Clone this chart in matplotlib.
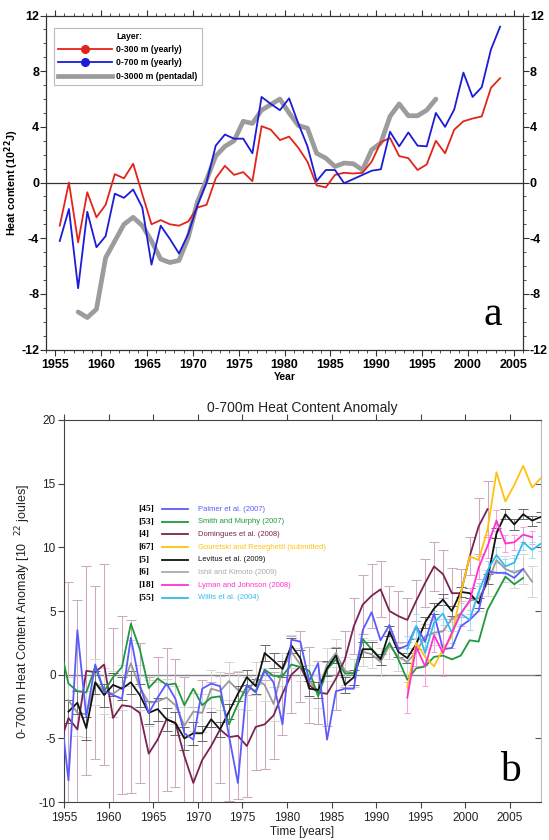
import numpy as np
import matplotlib
matplotlib.use('Agg')
import matplotlib.pyplot as plt
from matplotlib.lines import Line2D
from matplotlib.ticker import MultipleLocator

plt.rcParams['font.family'] = ['Liberation Sans', 'DejaVu Sans']
plt.rcParams['axes.unicode_minus'] = False

# ---- panel a: Levitus et al. layers ----
years_a = np.arange(1955, 2004) + 0.5
heat_300 = [-3.1, 0.0, -4.3, -0.7, -2.5, -1.6, 0.6, 0.3, 1.35, -0.85,
            -3.0, -2.7, -3.0, -3.1, -2.8, -1.8, -1.6, 0.3, 1.2, 0.55,
            0.75, 0.1, 4.05, 3.8, 3.05, 3.3, 2.5, 1.5, -0.2, -0.35,
            0.55, 0.7, 0.65, 0.7, 1.5, 2.9, 3.2, 1.9, 1.75, 0.9,
            1.3, 3.0, 2.1, 3.8, 4.4, 4.6, 4.75, 6.8, 7.5]
heat_700 = [-4.2, -1.9, -7.6, -2.1, -4.65, -3.85, -0.8, -1.1, -0.5, -1.8,
            -5.9, -3.1, -4.05, -5.1, -3.7, -1.65, 0.0, 2.65, 3.45, 3.15,
            3.15, 2.1, 6.15, 5.65, 5.2, 6.05, 4.25, 2.6, 0.1, 0.9,
            0.9, -0.05, 0.25, 0.55, 0.85, 0.95, 3.65, 2.6, 3.6, 2.65,
            2.6, 5.0, 4.0, 5.25, 7.9, 6.15, 6.85, 9.55, 11.2]
years_3000 = np.arange(1957, 1997) + 0.5
heat_3000 = [-9.3, -9.7, -9.1, -5.4, -4.2, -3.0, -2.5, -3.1, -4.2, -5.5,
             -5.75, -5.6, -3.95, -1.4, 0.2, 1.9, 2.6, 3.0, 4.4, 4.25,
             5.2, 5.6, 6.0, 5.0, 4.1, 3.9, 2.1, 1.75, 1.15, 1.4,
             1.35, 0.9, 2.35, 2.85, 4.75, 5.65, 4.8, 4.8, 5.2, 6.0]

# ---- panel b: 0-700 m estimates ----
yrs_palmer = np.arange(1954, 2007) + 0.5
palmer = [-2.0, -8.3, 3.5, -3.3, 0.8, -1.3, -1.6, -1.9, 2.9, -0.8,
          -3.0, -1.8, -0.7, -1.9, -4.6, -5.1, -1.1, -0.7, -0.9, -4.8,
          -8.5, -0.8, -1.4, 0.3, -0.6, -3.9, 2.75, 2.6, -0.5, 0.9,
          -5.1, -1.3, -1.1, -1.1, 3.5, 4.9, 2.7, 3.9, 2.0, 2.3,
          3.8, 2.6, 4.8, 2.0, 2.1, 3.8, 4.3, 5.0, 8.1, 8.0,
          8.0, 7.6, 8.3]
yrs_smith = np.arange(1954, 2007) + 0.5
smith = [2.4, -0.7, -1.3, -1.4, 0.6, -1.3, -0.2, 0.6, 4.0, 2.0,
         -1.05, -0.3, -0.8, -0.7, -2.4, -1.1, -2.4, -1.8, -1.7, -3.9,
         -2.3, -0.9, -1.3, 0.4, -0.1, -0.1, 0.8, 0.6, 0.3, -1.7,
         0.4, 1.2, 0.1, 0.1, 2.8, 2.0, 1.3, 2.5, 1.2, -0.4,
         0.5, 0.65, 1.4, 1.5, 1.2, 1.5, 2.7, 2.6, 5.1, 6.4,
         7.7, 7.1, 7.6]
yrs_doming = np.arange(1954, 2003) + 0.5
doming = [-5.5, -3.4, -4.3, 0.3, 0.2, 0.8, -3.4, -2.4, -2.5, -3.0,
          -6.2, -5.1, -3.5, -3.8, -6.4, -8.5, -6.7, -5.6, -4.3, -4.9,
          -4.8, -5.6, -4.1, -3.9, -3.2, -1.5, 0.0, 0.65, -0.8, -1.4,
          -1.5, -0.3, 1.2, 3.8, 5.5, 6.2, 6.7, 5.0, 4.6, 4.3,
          5.8, 7.2, 8.5, 7.9, 6.4, 6.4, 9.3, 11.65, 13.0]
doming_err = [10.0, 10.7, 10.2, 8.2, 6.8, 7.9, 7.1, 7.0, 6.8, 5.5,
              6.0, 6.5, 5.6, 5.0, 6.2, 6.0, 6.3, 5.0, 4.2, 5.0,
              5.0, 4.0, 3.4, 3.5, 3.4, 3.2, 3.0, 2.8, 3.0, 2.5,
              2.5, 2.5, 2.2, 2.2, 2.3, 2.5, 2.2, 2.0, 2.0, 1.7,
              1.6, 1.9, 1.9, 1.9, 2.0, 1.9, 1.5, 2.2, 2.2]
yrs_levitus = np.arange(1955, 2009) + 0.5
levitus = [-2.9, -2.2, -4.2, -0.6, -1.6, -0.8, -1.1, -0.6, -1.6, -3.0,
           -2.7, -3.5, -3.8, -5.0, -4.6, -4.6, -3.5, -4.3, -2.9, -1.5,
           -0.2, -0.9, 1.7, 1.1, 0.45, 2.3, 1.3, -1.1, -1.2, 0.5,
           1.5, -0.8, -0.2, 2.0, 2.0, 1.2, 3.4, 1.8, 1.3, 2.4,
           4.1, 5.2, 5.9, 5.0, 6.5, 6.4, 5.6, 7.5, 11.1, 12.6,
           11.8, 12.6, 12.1, 12.4]
levitus_err = [0.9, 0.9, 0.9, 0.9, 0.9, 0.9, 0.9, 0.9, 0.9, 0.9,
               0.9, 0.9, 0.9, 0.9, 0.9, 0.6, 0.6, 0.6, 0.6, 0.6,
               0.6, 0.6, 0.6, 0.6, 0.6, 0.6, 0.6, 0.6, 0.6, 0.6,
               0.6, 0.6, 0.6, 0.6, 0.6, 0.4, 0.4, 0.4, 0.4, 0.4,
               0.4, 0.4, 0.4, 0.4, 0.4, 0.4, 0.4, 0.4, 0.4, 0.4,
               0.4, 0.4, 0.4, 0.4]
yrs_ishii = np.arange(1955, 2008) + 0.5
ishii = [-2.0, -3.0, -3.1, -0.6, -1.3, -1.5, -1.0, 0.9, -1.0, -2.2,
         -2.1, -1.8, -2.4, -4.0, -2.9, -3.0, -1.1, -1.3, -0.5, -1.2,
         -1.5, -0.3, -0.8, -2.3, 0.4, 1.8, 0.8, -0.5, -1.3, 0.8,
         1.7, 0.3, 0.1, 1.8, 1.6, 1.0, 2.3, 1.4, 1.0, 1.8,
         3.0, 3.3, 3.4, 4.4, 4.8, 5.8, 6.0, 7.2, 9.0, 8.3,
         8.0, 8.3, 7.3]
ishii_err = [1.8, 1.8, 1.8, 1.8, 1.8, 1.8, 1.8, 1.8, 1.8, 1.8,
             1.5, 1.5, 1.5, 1.5, 1.5, 1.5, 1.5, 1.5, 1.5, 1.5,
             1.3, 1.3, 1.3, 1.3, 1.3, 1.3, 1.3, 1.3, 1.3, 1.3,
             1.1, 1.1, 1.1, 1.1, 1.1, 1.1, 1.1, 1.1, 1.1, 1.1,
             1.0, 1.0, 1.0, 1.0, 1.0, 1.0, 1.0, 1.0, 1.0, 1.0,
             1.2, 1.2, 1.2]
yrs_gour = np.arange(1993, 2009) + 0.5
gouretski = [-1.0, 2.5, 1.4, 0.65, 2.0, 3.0, 6.4, 9.3, 9.0, 11.4,
             15.9, 13.6, 14.9, 16.4, 14.7, 15.45]
yrs_lyman = np.arange(1993, 2008) + 0.5
lyman = [-1.8, 2.2, 0.65, 3.1, 1.7, 3.3, 4.8, 5.8, 8.4, 10.1,
         12.1, 10.3, 10.4, 11.0, 10.8]
lyman_err = [1.2, 1.5, 1.5, 1.3, 1.8, 1.2, 1.0, 1.0, 0.9, 0.9,
             0.8, 0.7, 0.6, 0.6, 0.5]
yrs_willis = np.arange(1993, 2009) + 0.5
willis = [2.0, 3.8, 1.7, 4.1, 4.8, 3.3, 4.8, 4.3, 6.5, 8.2,
          9.4, 8.5, 8.8, 10.4, 9.8, 10.3]
willis_err = [1.0, 1.0, 0.9, 0.9, 0.9, 0.8, 0.8, 0.8, 0.7, 0.7,
              0.6, 0.6, 0.6, 0.6, 0.6, 0.6]

RED, BLUE, GREY_A = '#e3241b', '#1c1cd6', '#9c9c9c'
C_PALMER, C_SMITH, C_DOMING = '#5a5aff', '#1e9a3c', '#7a2352'
C_GOUR, C_LEV, C_ISHII = '#ffc20e', '#111111', '#9a9a9a'
C_LYMAN, C_WILLIS = '#ff33cc', '#33bbee'

fig = plt.figure(figsize=(5.49, 8.4), dpi=100)

# ================= panel a =================
ax1 = fig.add_axes([0.0838, 0.5839, 0.8689, 0.3976])
ax1.axhline(0, color='#333333', lw=0.9, zorder=1)
ax1.plot(years_3000, heat_3000, color=GREY_A, lw=3.4, solid_capstyle='round', zorder=2)
ax1.plot(years_a, heat_300, color=RED, lw=1.3, zorder=3)
ax1.plot(years_a, heat_700, color=BLUE, lw=1.3, zorder=4)
ax1.set_xlim(1954, 2006)
ax1.set_ylim(-12, 12)
ax1.set_xticks(range(1955, 2006, 5))
ax1.xaxis.set_minor_locator(MultipleLocator(1))
ax1.set_yticks(range(-12, 13, 4))
ax1.yaxis.set_minor_locator(MultipleLocator(1))
ax1.tick_params(axis='both', which='both', direction='out', color='#333333')
ax1.tick_params(axis='x', which='both', top=True, bottom=True)
ax1.tick_params(axis='x', which='major', length=4.5, width=0.8, pad=2)
ax1.tick_params(axis='x', which='minor', length=2.5, width=0.6)
ax1.tick_params(axis='y', which='both', left=True, right=True)
ax1.tick_params(axis='y', which='major', labelright=True, length=4, width=0.8, pad=1)
ax1.tick_params(axis='y', which='minor', length=2.5, width=0.6)
ax1.tick_params(axis='both', which='major', labelsize=9)
for lab in ax1.get_xticklabels() + ax1.get_yticklabels():
    lab.set_fontweight('bold')
for lab in ax1.yaxis.get_ticklabels(which='major'):
    lab.set_fontweight('bold')
for t in ax1.yaxis.get_major_ticks():
    t.label2.set_fontweight('bold')
for sp in ax1.spines.values():
    sp.set_linewidth(0.9)
    sp.set_color('#333333')
ax1.set_ylabel('Heat content (10$^{\\mathbf{22}}$J)', fontsize=7.8, fontweight='bold', labelpad=0)
ax1.set_xlabel('Year', fontsize=7.5, fontweight='bold', labelpad=1)

handles = [Line2D([], [], color='none'),
           Line2D([], [], color=RED, lw=1.3, marker='o', ms=5.5),
           Line2D([], [], color=BLUE, lw=1.3, marker='o', ms=5.5),
           Line2D([], [], color=GREY_A, lw=3.4)]
labels = ['Layer:', '0-300 m (yearly)', '0-700 m (yearly)', '0-3000 m (pentadal)']
leg = ax1.legend(handles, labels, loc='upper left', bbox_to_anchor=(0.017, 0.964),
                 borderaxespad=0, prop={'weight': 'bold', 'size': 6.2},
                 handlelength=6.2, handletextpad=0.5, numpoints=1,
                 labelspacing=0.5, borderpad=0.5, fancybox=False,
                 edgecolor='#bbbbbb', framealpha=1)
leg.get_frame().set_linewidth(0.8)

fig.text(493 / 549, 1 - 315 / 840, 'a', family='Liberation Serif', fontsize=30,
         ha='center', va='center')

# ================= panel b =================
ax2 = fig.add_axes([0.1166, 0.0452, 0.8689, 0.4548])
ax2.axhline(0, color='#808080', lw=1.0, zorder=1)

ax2.errorbar(yrs_doming, doming, yerr=doming_err, fmt='none', ecolor='#cfa8c2',
             elinewidth=0.75, capsize=3.5, capthick=0.75, zorder=2)
ax2.errorbar(yrs_ishii, ishii, yerr=ishii_err, fmt='none', ecolor='#d4d4d4',
             elinewidth=0.7, capsize=3.5, capthick=0.7, zorder=2)
ax2.errorbar(yrs_levitus, levitus, yerr=levitus_err, fmt='none', ecolor='#666666',
             elinewidth=0.6, capsize=3.5, capthick=0.7, zorder=2)
ax2.errorbar(yrs_lyman, lyman, yerr=lyman_err, fmt='none', ecolor='#ff99e0',
             elinewidth=0.7, capsize=2, capthick=0.7, zorder=2)
ax2.errorbar(yrs_willis, willis, yerr=willis_err, fmt='none', ecolor='#99ddf5',
             elinewidth=0.7, capsize=2, capthick=0.7, zorder=2)

series = [(yrs_ishii, ishii, C_ISHII), (yrs_doming, doming, C_DOMING),
          (yrs_smith, smith, C_SMITH), (yrs_levitus, levitus, C_LEV),
          (yrs_palmer, palmer, C_PALMER), (yrs_gour, gouretski, C_GOUR),
          (yrs_willis, willis, C_WILLIS), (yrs_lyman, lyman, C_LYMAN)]
for x, y, c in series:
    ax2.plot(x, y, color=c, lw=1.3, zorder=3)

ax2.set_xlim(1955, 2008.5)
ax2.set_ylim(-10, 20)
ax2.set_xticks(range(1955, 2006, 5))
ax2.set_yticks(range(-10, 21, 5))
ax2.tick_params(axis='x', direction='out', top=True, bottom=True, length=4,
                width=0.8, color='#444444', labelsize=8.5, labelcolor='#222222')
ax2.tick_params(axis='y', direction='out', left=True, length=4, width=0.8,
                color='#444444', labelsize=8.5, labelcolor='#222222', pad=2)
ax2.tick_params(axis='y', right=True)
for t in ax2.yaxis.get_major_ticks():
    t.tick2line.set_marker(matplotlib.markers.TICKLEFT)
    t.tick2line.set_markersize(4)
    t.tick2line.set_markeredgecolor('#555555')
for name, sp in ax2.spines.items():
    sp.set_linewidth(0.8)
    sp.set_color('#bbbbbb' if name == 'right' else '#444444')
ax2.set_title('0-700m Heat Content Anomaly', fontsize=10, color='#222222', pad=6)
ax2.set_xlabel('Time [years]', fontsize=8.5, color='#222222', labelpad=1)
ax2.set_ylabel('0-700 m Heat Content Anomaly [10  $^{22}$ joules]', fontsize=9,
               color='#222222', labelpad=4)

refs = ['[45]', '[53]', '[4]', '[67]', '[5]', '[6]', '[18]', '[55]']
names = ['Palmer et al. (2007)', 'Smith and Murphy (2007)', 'Domingues et al. (2008)',
         'Gouretski and Reseghetti (submitted)', 'Levitus et al. (2009)',
         'Ishii and Kimoto (2009)', 'Lyman and Johnson (2008)', 'Willis et al. (2004)']
leg_colors = [C_PALMER, C_SMITH, C_DOMING, C_GOUR, C_LEV, '#aaaaaa', C_LYMAN, C_WILLIS]
for i, (r, n, c) in enumerate(zip(refs, names, leg_colors)):
    yy = 0.767 - i * 0.0332
    ax2.text(0.155, yy, r, transform=ax2.transAxes, family='Liberation Serif',
             fontweight='bold', fontsize=6.8, va='center', ha='left')
    ax2.add_line(Line2D([0.205, 0.26], [yy, yy], transform=ax2.transAxes,
                        color=c, lw=1.3))
    ax2.text(0.281, yy, n, transform=ax2.transAxes, color=c, fontsize=5.5,
             va='center', ha='left')

fig.text(510 / 549, 1 - 771 / 840, 'b', family='Liberation Serif', fontsize=30,
         ha='center', va='center')

fig.savefig('out.png', dpi=100)
